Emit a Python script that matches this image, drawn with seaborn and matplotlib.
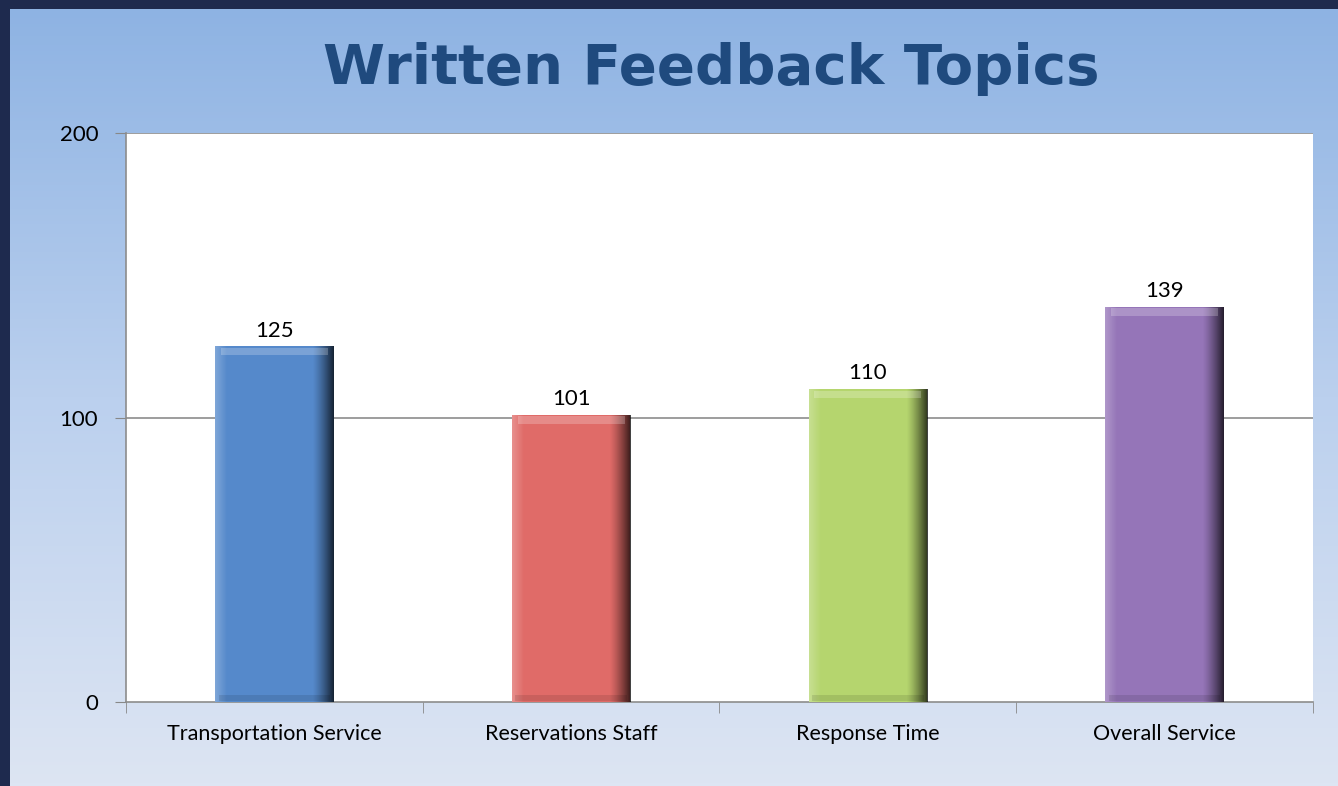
import numpy as np
import pandas as pd
import matplotlib
matplotlib.use("Agg")
import matplotlib.pyplot as plt
import seaborn as sns
from matplotlib.colors import LinearSegmentedColormap

categorias = ["Transportation Service", "Reservations Staff", "Response Time", "Overall Service"]
valores = [125, 101, 110, 139]
cores = ["#5589CB", "#E06B68", "#B5D56E", "#9575B8"]
y_ticks = [0, 100, 200]

df = pd.DataFrame({"topico": categorias, "qtd": valores})

sns.set_style("white")
plt.rcParams['font.family'] = ['Lato', 'DejaVu Sans']

fig = plt.figure(figsize=(13.38, 7.86), dpi=100)
fig.patch.set_facecolor("#1E2A4E")

# fundo em degradê do painel
bg = fig.add_axes([10 / 1338, 0, 1328 / 1338, 777 / 786])
grad = np.linspace(0, 1, 256).reshape(-1, 1)
cmap_bg = LinearSegmentedColormap.from_list("bg", ["#8EB3E3", "#BBD0EE", "#DDE5F3"])
bg.imshow(grad, aspect="auto", cmap=cmap_bg, extent=[0, 1, 0, 1], origin="upper")
bg.set_axis_off()

ax = fig.add_axes([126 / 1338, (786 - 702) / 786, 1187 / 1338, 569 / 786])
ax.set_facecolor("white")
sns.barplot(data=df, x="topico", y="qtd", hue="topico", palette=cores,
            width=0.40, saturation=1, legend=False, ax=ax, zorder=3, linewidth=0)

# efeito de bisel nas barras
sombra = LinearSegmentedColormap.from_list("s", [(0, 0, 0, 0.0), (0, 0, 0, 0.75)])
luz = LinearSegmentedColormap.from_list("l", [(1, 1, 1, 0), (1, 1, 1, 0.25)])
for p in ax.patches:
    x0, y0 = p.get_x(), p.get_y()
    w, h = p.get_width(), p.get_height()
    gx = np.linspace(0, 1, 200).reshape(1, -1)
    gx = np.clip((gx - 0.82) / 0.18, 0, 1) ** 1.3
    im = ax.imshow(gx, aspect="auto", cmap=sombra, extent=[x0, x0 + w, y0, y0 + h],
                   vmin=0, vmax=1, zorder=4)
    im.set_clip_path(p)
    gl = np.linspace(1, 0, 200).reshape(1, -1)
    gl = np.clip((gl - 0.9) / 0.1, 0, 1)
    im2 = ax.imshow(gl, aspect="auto", cmap=luz, extent=[x0, x0 + w, y0, y0 + h],
                    vmin=0, vmax=1, zorder=4)
    im2.set_clip_path(p)
    # faixa clara no topo e escura na base
    ax.fill_between([x0 + w * 0.05, x0 + w * 0.95], y0 + h - 3.2, y0 + h - 0.6,
                    color="white", alpha=0.22, lw=0, zorder=5)
    ax.fill_between([x0 + w * 0.03, x0 + w * 0.97], y0 + 0.3, y0 + 2.5,
                    color="black", alpha=0.10, lw=0, zorder=5)
    ax.annotate(f"{int(h)}", (x0 + w / 2, y0 + h), xytext=(0, 4), textcoords="offset points",
                ha="center", va="bottom", fontsize=16, color="black")

ax.set_xlim(-0.5, len(categorias) - 0.5)
ax.set_ylim(0, 200)
ax.set_yticks(y_ticks)
ax.set_yticklabels([str(t) for t in y_ticks], fontsize=16)
ax.set_xticks(range(len(categorias)))
ax.set_xticklabels(categorias, fontsize=15.5)
ax.set_xticks(np.arange(-0.5, len(categorias), 1), minor=True)
ax.tick_params(axis="x", which="major", length=0, pad=16, labelcolor="black")
ax.tick_params(axis="x", which="minor", length=8, color="#888888", direction="out", bottom=True)
ax.tick_params(axis="y", length=8, color="#888888", direction="out", left=True, pad=12,
               labelcolor="black")
ax.set_xlabel("")
ax.set_ylabel("")
for y in y_ticks[1:]:
    ax.axhline(y, color="#8C8C8C", lw=1.2, zorder=1)
for s in ["left", "bottom"]:
    ax.spines[s].set_color("#8C8C8C")
    ax.spines[s].set_linewidth(1.2)
ax.spines["right"].set_visible(False)
ax.spines["top"].set_visible(False)

fig.text(711 / 1338, 1 - 69 / 786, "Written Feedback Topics", ha="center", va="center",
         fontsize=40.5, fontweight="bold", color="#1F4A7E", family=["DejaVu Sans"])

fig.savefig("out.png", dpi=100, facecolor=fig.get_facecolor())
